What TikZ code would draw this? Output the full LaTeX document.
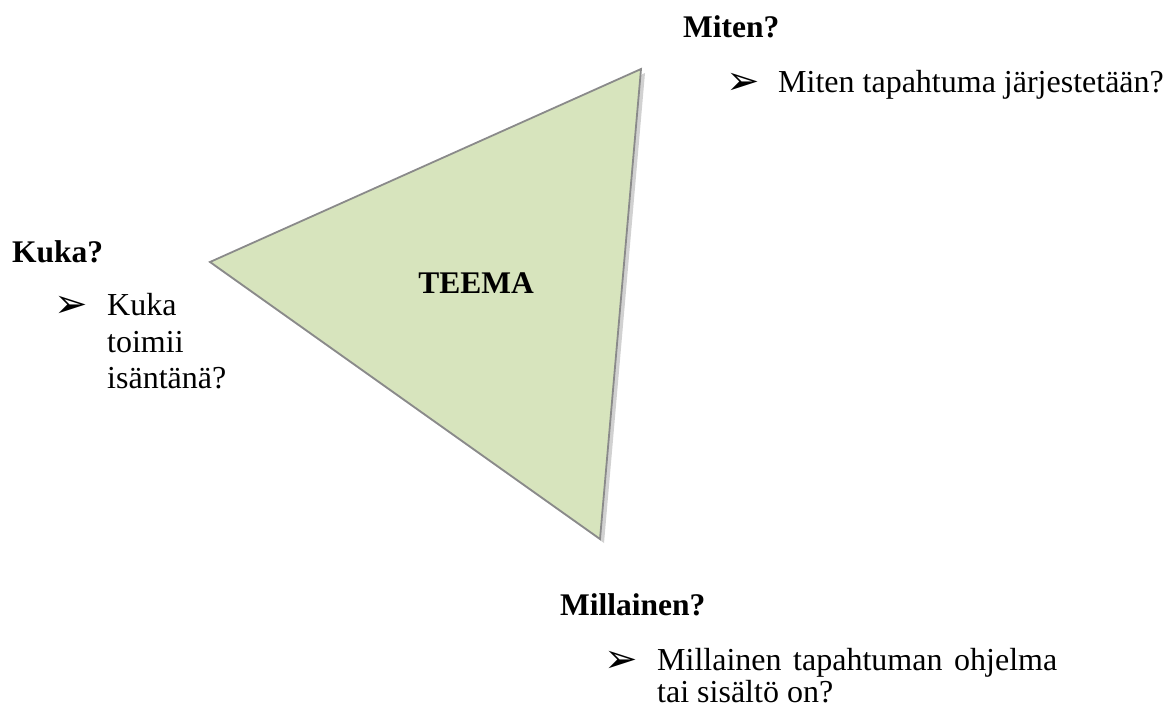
\documentclass[tikz,border=0pt]{standalone}
\usepackage{fontspec}
\setmainfont{Liberation Serif}
\newfontfamily\dingfont{DejaVu Sans}
\usepackage{xcolor}
\usetikzlibrary{shadows}

\definecolor{teemagreen}{HTML}{D7E4BD}
\definecolor{teemaedge}{HTML}{8A8A8A}

\begin{document}
\begin{tikzpicture}[
    x=1pt, y=-1pt,
    every node/.style={
        inner sep=0pt,
        anchor=base west,
        font=\fontsize{32}{38}\selectfont
    },
    head/.style={font=\fontsize{31.5}{37}\selectfont\bfseries},
    arrowbullet/.style={anchor=center, font=\fontsize{40}{40}\dingfont},
    trianglebox/.style={
        fill=teemagreen, draw=teemaedge, line width=1.8pt, line join=miter,
        drop shadow={shadow xshift=4pt, shadow yshift=-4pt, opacity=0.3, fill=black!60}
    }
]
\useasboundingbox (0,0) rectangle (1166,707);

% the triangle
\coordinate (left) at (210,262);
\coordinate (top) at (641,69);
\coordinate (bottom) at (600,539);
\path[trianglebox] (left) -- (top) -- (bottom) -- cycle;
\node[head, anchor=base] (teema) at (476,293) {TEEMA};

% Miten?
\node[head] (miten) at (683,37) {Miten?};
\node[arrowbullet] (mitenbullet) at (743,84) {➢};
\node (mitentext) at (778,92) {Miten tapahtuma järjestetään?};

% Kuka?
\node[head] (kuka) at (12,262) {Kuka?};
\node[arrowbullet] (kukabullet) at (71,307) {➢};
\node (kuka1) at (107,315) {Kuka};
\node (kuka2) at (107,352) {toimii};
\node (kuka3) at (107,388) {isäntänä?};

% Millainen?
\node[head] (millainen) at (560,615) {Millainen?};
\node[arrowbullet] (millainenbullet) at (621,662) {➢};
\node (millainen1) at (657,670) {\makebox[400pt][s]{Millainen tapahtuman ohjelma}};
\node (millainen2) at (657,702) {tai sisältö on?};

\end{tikzpicture}
\end{document}
